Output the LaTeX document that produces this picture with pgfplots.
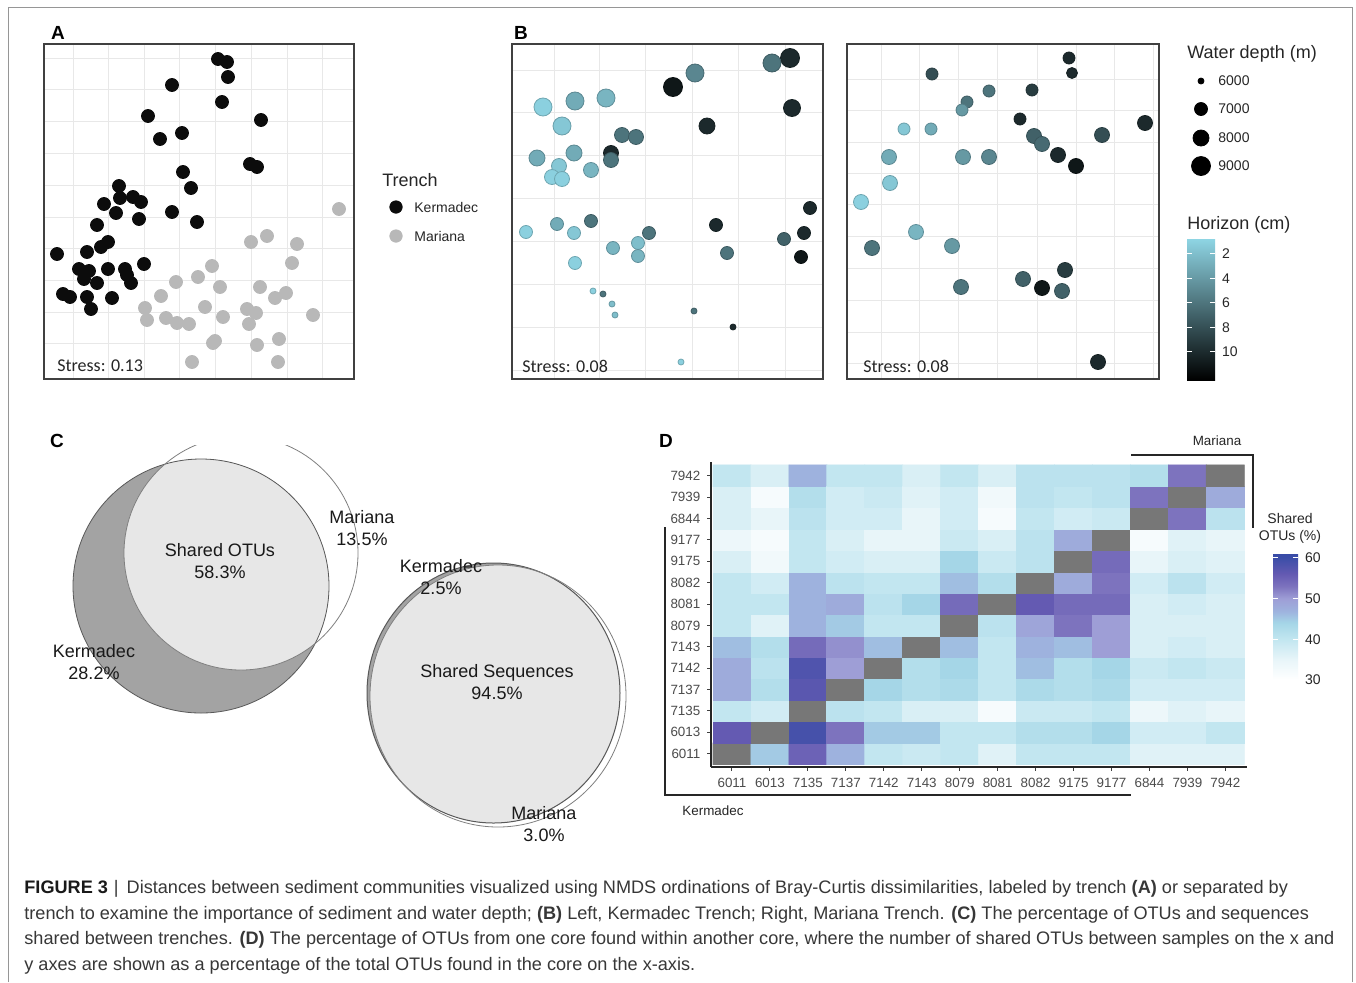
\documentclass[border=0pt]{standalone}
\usepackage{pgfplots}
\pgfplotsset{compat=1.18}
\usepackage{fontspec}
\setmainfont{Liberation Sans}
\newfontfamily\calib{Carlito}

\definecolor{kerm}{RGB}{12,12,12}
\definecolor{mari}{RGB}{184,184,184}
\definecolor{gridc}{RGB}{232,232,232}
\definecolor{framec}{RGB}{150,150,150}
\definecolor{vdark}{RGB}{163,163,163}
\definecolor{vlight}{RGB}{231,231,231}
\definecolor{capc}{RGB}{55,55,55}

\newcommand\ftxt{\fontsize{9}{11}\selectfont}
\newcommand\fsmall{\fontsize{7}{8.5}\selectfont}
\newcommand\ftick{\fontsize{6.7}{8}\selectfont}
\newcommand\fcap{\fontsize{9.06}{11}\selectfont}

\tikzset{lab/.style={anchor=west, inner sep=0pt, text=black!85}}

\pgfplotsset{
  /pgf/number format/assume math mode=true,
  colormap={hor}{rgb255(0pt)=(143,214,229) rgb255(1pt)=(0,0,0)},
  colormap={heatd}{rgb255(0pt)=(255,255,255) rgb255(5pt)=(232,245,249)
    rgb255(10pt)=(194,230,240) rgb255(14pt)=(165,214,231) rgb255(17pt)=(158,178,222)
    rgb255(20pt)=(158,158,214) rgb255(23pt)=(125,115,190) rgb255(26pt)=(100,90,178)
    rgb255(30pt)=(60,78,168) rgb255(31pt)=(119,119,119) rgb255(32pt)=(119,119,119)},
  colormap={heatcb}{rgb255(0pt)=(255,255,255) rgb255(5pt)=(232,245,249)
    rgb255(10pt)=(194,230,240) rgb255(14pt)=(165,214,231) rgb255(17pt)=(158,178,222)
    rgb255(20pt)=(158,158,214) rgb255(23pt)=(125,115,190) rgb255(26pt)=(100,90,178)
    rgb255(30pt)=(60,78,168) rgb255(31.2pt)=(55,74,166)},
  nmds/.style={scale only axis, anchor=south west, y dir=reverse,
    xticklabels={}, yticklabels={}, major tick length=0pt,
    grid=major, grid style={draw=gridc, line width=0.5pt},
    axis line style={draw=black!75, line width=0.6pt}},
  depthpts/.style={scatter, only marks, mark=*, point meta=explicit,
    visualization depends on={0.25*\thisrow{s} \as \msz},
    scatter/@pre marker code/.append style={/tikz/mark size=\msz}},
  cbar/.style={scale only axis, hide axis, anchor=south west,
    xmin=0, xmax=1, ymin=0, ymax=1, colorbar, colorbar shift/.style={}},
}

\begin{document}
\begin{tikzpicture}
\useasboundingbox (0,0) rectangle (678pt,491pt);
\fill[white] (0,0) rectangle (678pt,491pt);

% page layer in pixel coordinates
\begin{axis}[at={(0pt,0pt)}, anchor=south west, scale only axis,
  width=678pt, height=491pt, xmin=0, xmax=1356, ymin=0, ymax=982,
  y dir=reverse, hide axis, clip=false]
\draw[framec, line width=0.5pt] (axis cs:8,982) -- (axis cs:8,7.5)
  -- (axis cs:1352,7.5) -- (axis cs:1352,982);

\node[font=\fontsize{9.5}{11}\selectfont\bfseries] at (axis cs:58,33) {A};
\node[font=\fontsize{9.5}{11}\selectfont\bfseries] at (axis cs:521,33) {B};
\node[font=\fontsize{9.5}{11}\selectfont\bfseries] at (axis cs:57,441) {C};
\node[font=\fontsize{9.5}{11}\selectfont\bfseries] at (axis cs:666,441) {D};

% trench legend
\node[lab, font=\ftxt] at (axis cs:382,180) {Trench};
\addplot[only marks, mark=*, mark size=3.1pt, kerm] coordinates {(396,207)};
\addplot[only marks, mark=*, mark size=3.1pt, mari] coordinates {(396,236)};
\node[lab, font=\fsmall] at (axis cs:414,207) {Kermadec};
\node[lab, font=\fsmall] at (axis cs:414,236) {Mariana};

% depth legend
\node[lab, font=\ftxt] at (axis cs:1187,54) {Water depth (m)};
\addplot[only marks, mark=*, mark size=1.5pt, black] coordinates {(1201,81)};
\addplot[only marks, mark=*, mark size=3.25pt, black] coordinates {(1201,109)};
\addplot[only marks, mark=*, mark size=4pt, black] coordinates {(1201,138)};
\addplot[only marks, mark=*, mark size=4.75pt, black] coordinates {(1201,166)};
\node[lab, font=\fsmall] at (axis cs:1218,81) {6000};
\node[lab, font=\fsmall] at (axis cs:1218,109) {7000};
\node[lab, font=\fsmall] at (axis cs:1218,138) {8000};
\node[lab, font=\fsmall] at (axis cs:1218,166) {9000};
\node[lab, font=\ftxt] at (axis cs:1187,225) {Horizon (cm)};

% Venn: shared OTUs
\begin{scope}
\clip (axis cs:0,445) rectangle (axis cs:640,900);
\fill[vdark] (axis cs:201,586) ellipse [x radius=128, y radius=127];
\begin{scope}
\clip (axis cs:201,586) ellipse [x radius=128, y radius=127];
\fill[vlight] (axis cs:241,553) ellipse [x radius=117, y radius=117];
\end{scope}
\draw[black!65, line width=0.4pt] (axis cs:201,586) ellipse [x radius=128, y radius=127];
\draw[black!50, line width=0.4pt] (axis cs:241,553) ellipse [x radius=117, y radius=117];
\end{scope}

% Venn: shared sequences
\fill[vdark] (axis cs:493.5,693) ellipse [x radius=126.5, y radius=130];
\begin{scope}
\clip (axis cs:493.5,693) ellipse [x radius=126.5, y radius=130];
\fill[vlight] (axis cs:498,696) ellipse [x radius=128, y radius=131];
\end{scope}
\draw[black!65, line width=0.5pt] (axis cs:493.5,693) ellipse [x radius=126.5, y radius=130];
\draw[black!50, line width=0.4pt] (axis cs:498,696) ellipse [x radius=128, y radius=131];

\node[align=center, font=\ftxt, text=black!90] at (axis cs:220,561) {Shared OTUs\\58.3\%};
\node[align=center, font=\ftxt, text=black!90] at (axis cs:362,528) {Mariana\\13.5\%};
\node[align=center, font=\ftxt, text=black!90] at (axis cs:94,662) {Kermadec\\28.2\%};
\node[align=center, font=\ftxt, text=black!90] at (axis cs:441,577) {Kermadec\\2.5\%};
\node[align=center, font=\ftxt, text=black!90] at (axis cs:497,682) {Shared Sequences\\94.5\%};
\node[align=center, font=\ftxt, text=black!90] at (axis cs:544,824) {Mariana\\3.0\%};

% heatmap brackets and labels
\draw[black!85, line width=0.8pt] (axis cs:665,527) -- (axis cs:665,795) -- (axis cs:1131,795);
\draw[black!85, line width=0.8pt] (axis cs:1131,455) -- (axis cs:1253,455) -- (axis cs:1253,528);
\node[font=\ftick, text=black!85] at (axis cs:1217,441) {Mariana};
\node[font=\ftick, text=black!85] at (axis cs:713,811) {Kermadec};
\node[align=center, font=\fsmall, text=black!85] at (axis cs:1290,528) {Shared\\OTUs (\%)};

% caption
\node[anchor=base west, inner sep=0pt, font=\fcap, text=capc] at (axis cs:24,893)
  {\textbf{\color{black!90}FIGURE 3}\hspace{3pt}|\hspace{4pt}Distances between sediment communities visualized using NMDS ordinations of Bray-Curtis dissimilarities, labeled by trench \textbf{(A)} or separated by};
\node[anchor=base west, inner sep=0pt, font=\fcap, text=capc] at (axis cs:24,919)
  {trench to examine the importance of sediment and water depth; \textbf{(B)} Left, Kermadec Trench; Right, Mariana Trench. \textbf{(C)} The percentage of OTUs and sequences};
\node[anchor=base west, inner sep=0pt, font=\fcap, text=capc] at (axis cs:24,944)
  {shared between trenches. \textbf{(D)} The percentage of OTUs from one core found within another core, where the number of shared OTUs between samples on the x and};
\node[anchor=base west, inner sep=0pt, font=\fcap, text=capc] at (axis cs:24,970)
  {y axes are shown as a percentage of the total OTUs found in the core on the x-axis.};
\end{axis}

% A: NMDS labeled by trench
\begin{axis}[nmds, at={(22pt,301.5pt)}, width=155pt, height=167.5pt,
  xmin=44, xmax=354, ymin=44, ymax=379,
  xtick={73,108,144,179,215,251,287,322},
  ytick={58,89,121,153,185,217,248,280,312,343}]
\addplot[only marks, mark=*, mark size=3.25pt, kerm] table {
x y
218 59
227 62
228 77
172 85
222 102
261 120
148 116
182 133
160 139
250 164
257 167
183 172
191 188
119 186
120 198
133 197
141 202
104 204
116 213
172 212
139 219
197 222
97 225
108 242
101 247
87 252
57 254
144 264
79 269
89 271
108 269
125 269
127 275
84 279
97 283
131 283
63 294
70 297
87 297
112 298
91 309
};
\addplot[only marks, mark=*, mark size=3.25pt, mari] table {
x y
339 209
267 236
251 242
297 244
292 263
212 266
198 277
176 282
220 287
260 287
286 293
275 298
161 296
205 307
145 308
247 309
256 313
313 315
223 317
147 320
166 318
177 323
189 324
249 324
213 343
215 341
279 339
257 345
192 362
278 362
};
\node[lab, font=\calib\fontsize{9}{10}\selectfont] at (axis cs:57,366) {Stress: 0.13};
\end{axis}

% B left: Kermadec
\begin{axis}[nmds, at={(256pt,301.5pt)}, width=155.5pt, height=167.5pt,
  xmin=512, xmax=823, ymin=44, ymax=379,
  xtick={554,599,645,692,738,785},
  ytick={70,112,155,198,241,284,327,370},
  colormap name=hor, point meta min=0.7, point meta max=12.3]
\addplot[depthpts] table[x=x, y=y, meta=h] {
x y h s
790 58 10 19
772 63 6 18
695 73 5 18
673 87 11 19
792 108 10 17
707 126 10 16
543 107 1 18
575 101 3 18
606 98 2.5 18
562 126 1.5 18
622 135 6 15
636 137 6 15
611 153 10 15
611 160 6 15
537 158 3 16
574 153 3 16
559 166 1.5 15
552 177 1 15
562 179 1 15
591 170 2.5 15
810 208 10 13
716 225 10 13
804 233 10 13
784 239 7 13
801 257 11 13
727 253 6 13
526 232 1 13
557 224 3 13
574 233 1.5 13
591 221 6 13
649 233 6 13
613 248 2.5 13
638 243 2 13
638 256 2.5 13
575 263 1 13
593 291 1 6
603 294 6 6
612 304 2 6
615 315 2 6
694 311 6 6
733 327 10 6
681 362 1 6
};
\node[lab, font=\calib\fontsize{9}{10}\selectfont] at (axis cs:522,366) {Stress: 0.08};
\end{axis}

% B right: Mariana
\begin{axis}[nmds, at={(423.5pt,301.5pt)}, width=156pt, height=167.5pt,
  xmin=847, xmax=1159, ymin=44, ymax=379,
  xtick={881,919,958,997,1037,1076,1114,1153},
  ytick={79,110,142,173,204,236,268,300,332,363},
  colormap name=hor, point meta min=0.7, point meta max=12.3]
\addplot[depthpts] table[x=x, y=y, meta=h] {
x y h s
1069 58 10 12
1072 73 10 11
932 74 8 12
989 91 6 12
1032 90 9 12
967 102 6 12
962 110 4 12
1020 119 10 12
904 129 1.5 12
931 129 3 12
1145 123 10 15
1102 135 8 15
1034 136 7 15
1042 144 6.5 15
1058 155 10 15
1076 166 11 15
889 157 3 15
963 157 4 15
989 157 5 15
890 183 1.5 15
861 202 1 15
916 232 2.5 15
872 248 6 15
952 246 4 15
1065 270 9 15
1023 279 7 15
961 287 6 15
1042 288 11 15
1062 291 7 15
1098 362 10 15
};
\node[lab, font=\calib\fontsize{9}{10}\selectfont] at (axis cs:863,366) {Stress: 0.08};
\end{axis}

% horizon colour bar
\begin{axis}[cbar, at={(593.5pt,301pt)}, width=14pt, height=71pt,
  colormap name=hor, point meta min=0.7, point meta max=12.3,
  colorbar style={at={(parent axis.south west)}, anchor=south west,
    width=14pt, height=71pt, y dir=reverse, ytick={2,4,6,8,10},
    axis line style={draw=none}, tick align=inside, ytick pos=both,
    yticklabel pos=right, major tick length=2.5pt,
    ytick style={draw=white, line width=0.5pt},
    yticklabel style={font=\fsmall, text=black!85}}]
\addplot[draw=none] coordinates {(0,0)};
\end{axis}

% D: shared OTUs heatmap
\begin{axis}[scale only axis, anchor=south west, at={(355.5pt,107.5pt)},
  width=268pt, height=152.5pt,
  xmin=-0.553, xmax=13.57, ymin=-0.62, ymax=13.64,
  axis x line*=bottom, axis y line*=left,
  axis line style={-, draw=black!85, line width=0.8pt},
  colormap name=heatd, point meta min=30, point meta max=62,
  xtick={0,...,13}, ytick={0,...,13},
  xticklabels={6011,6013,7135,7137,7142,7143,8079,8081,8082,9175,9177,6844,7939,7942},
  yticklabels={6011,6013,7135,7137,7142,7143,8079,8081,8082,9175,9177,6844,7939,7942},
  tick align=outside, major tick length=1.8pt,
  tick style={draw=black!75, line width=0.5pt},
  ticklabel style={font=\ftick, text=black!70}]
\addplot[matrix plot*, mesh/cols=14, point meta=explicit] coordinates {
(0,0)[62] (1,0)[45] (2,0)[55] (3,0)[47] (4,0)[40] (5,0)[39] (6,0)[40] (7,0)[36] (8,0)[40] (9,0)[40] (10,0)[40] (11,0)[36] (12,0)[36] (13,0)[36]
(0,1)[56] (1,1)[62] (2,1)[59] (3,1)[53] (4,1)[45] (5,1)[45] (6,1)[40] (7,1)[40] (8,1)[42] (9,1)[42] (10,1)[44] (11,1)[38] (12,1)[38] (13,1)[40]
(0,2)[40] (1,2)[38] (2,2)[62] (3,2)[41] (4,2)[40] (5,2)[37] (6,2)[37] (7,2)[32] (8,2)[39] (9,2)[39] (10,2)[40] (11,2)[34] (12,2)[36] (13,2)[35]
(0,3)[48] (1,3)[42] (2,3)[57] (3,3)[62] (4,3)[44] (5,3)[42] (6,3)[43] (7,3)[40] (8,3)[43] (9,3)[42] (10,3)[43] (11,3)[38] (12,3)[38] (13,3)[38]
(0,4)[48] (1,4)[41] (2,4)[58] (3,4)[50] (4,4)[62] (5,4)[42] (6,4)[44] (7,4)[40] (8,4)[46] (9,4)[42] (10,4)[44] (11,4)[39] (12,4)[40] (13,4)[39]
(0,5)[46] (1,5)[42] (2,5)[54] (3,5)[51] (4,5)[46] (5,5)[62] (6,5)[46] (7,5)[40] (8,5)[47] (9,5)[46] (10,5)[50] (11,5)[37] (12,5)[38] (13,5)[37]
(0,6)[40] (1,6)[36] (2,6)[47] (3,6)[45] (4,6)[40] (5,6)[40] (6,6)[62] (7,6)[41] (8,6)[49] (9,6)[53] (10,6)[50] (11,6)[37] (12,6)[37] (13,6)[37]
(0,7)[40] (1,7)[40] (2,7)[47] (3,7)[48] (4,7)[41] (5,7)[44] (6,7)[54] (7,7)[62] (8,7)[56] (9,7)[54] (10,7)[54] (11,7)[37] (12,7)[38] (13,7)[37]
(0,8)[40] (1,8)[38] (2,8)[47] (3,8)[41] (4,8)[40] (5,8)[40] (6,8)[46] (7,8)[42] (8,8)[62] (9,8)[48] (10,8)[53] (11,8)[38] (12,8)[41] (13,8)[38]
(0,9)[37] (1,9)[33] (2,9)[40] (3,9)[38] (4,9)[37] (5,9)[37] (6,9)[44] (7,9)[39] (8,9)[41] (9,9)[62] (10,9)[54] (11,9)[35] (12,9)[37] (13,9)[36]
(0,10)[34] (1,10)[32] (2,10)[40] (3,10)[37] (4,10)[35] (5,10)[35] (6,10)[39] (7,10)[37] (8,10)[41] (9,10)[48] (10,10)[62] (11,10)[32] (12,10)[36] (13,10)[35]
(0,11)[37] (1,11)[35] (2,11)[41] (3,11)[38] (4,11)[38] (5,11)[35] (6,11)[38] (7,11)[32] (8,11)[40] (9,11)[38] (10,11)[39] (11,11)[62] (12,11)[53] (13,11)[41]
(0,12)[37] (1,12)[32] (2,12)[42] (3,12)[38] (4,12)[39] (5,12)[36] (6,12)[38] (7,12)[33] (8,12)[41] (9,12)[40] (10,12)[41] (11,12)[53] (12,12)[62] (13,12)[48]
(0,13)[40] (1,13)[37] (2,13)[47] (3,13)[40] (4,13)[40] (5,13)[37] (6,13)[40] (7,13)[37] (8,13)[41] (9,13)[41] (10,13)[41] (11,13)[42] (12,13)[53] (13,13)[62]
};
\end{axis}

% shared OTUs colour bar
\begin{axis}[cbar, at={(636.5pt,151pt)}, width=12.5pt, height=63.5pt,
  colormap name=heatcb, point meta min=30, point meta max=61.2,
  colorbar style={at={(parent axis.south west)}, anchor=south west,
    width=12.5pt, height=63.5pt, ytick={30,40,50,60},
    axis line style={draw=none}, tick align=inside, ytick pos=both,
    yticklabel pos=right, major tick length=2.5pt,
    ytick style={draw=white, line width=0.5pt},
    yticklabel style={font=\fsmall, text=black!85}}]
\addplot[draw=none] coordinates {(0,0)};
\end{axis}
\end{tikzpicture}
\end{document}
